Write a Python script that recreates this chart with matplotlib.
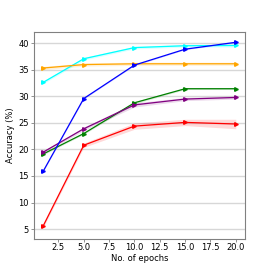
import matplotlib
matplotlib.use('Agg')
import matplotlib.pyplot as plt
import numpy as np

# 训练轮数
epochs = [1, 5, 10, 15, 20]

# 各方法的准确率（均值）与波动范围
acc_cyan = [32.65, 37.1, 39.2, 39.55, 39.6]
std_cyan = [0.25, 0.25, 0.25, 0.25, 0.3]
acc_orange = [35.35, 36.0, 36.15, 36.15, 36.15]
std_orange = [0.3, 0.3, 0.3, 0.3, 0.3]
acc_blue = [15.9, 29.6, 35.9, 38.9, 40.2]
std_blue = [0.1, 0.1, 0.1, 0.1, 0.1]
acc_green = [19.15, 23.0, 28.8, 31.45, 31.45]
std_green = [0.15, 0.15, 0.2, 0.15, 0.15]
acc_purple = [19.5, 23.9, 28.4, 29.5, 29.8]
std_purple = [0.25, 0.3, 0.4, 0.3, 0.3]
acc_red = [5.6, 20.8, 24.4, 25.1, 24.8]
std_red = [0.3, 0.4, 0.6, 0.6, 0.9]

series = [
    (acc_cyan, std_cyan, 'cyan'),
    (acc_orange, std_orange, 'orange'),
    (acc_green, std_green, 'green'),
    (acc_purple, std_purple, 'purple'),
    (acc_red, std_red, 'red'),
    (acc_blue, std_blue, 'blue'),
]

fig = plt.figure(figsize=(2.73, 2.73), dpi=100)
ax = fig.add_axes([0.123, 0.126, 0.776, 0.756])

x = np.array(epochs)
for acc, std, color in series:
    acc = np.array(acc)
    std = np.array(std)
    ax.fill_between(x, acc - std, acc + std, color=color, alpha=0.15, linewidth=0)
    ax.plot(x, acc, color=color, linewidth=0.9, marker='>', markersize=2.6)

ax.set_xlim(0.05, 20.95)
ax.set_ylim(3.2, 42.1)
ax.set_yticks([5, 10, 15, 20, 25, 30, 35, 40])
ax.set_xticks([2.5, 5.0, 7.5, 10.0, 12.5, 15.0, 17.5, 20.0])
ax.yaxis.grid(True, color='lightgray', linewidth=1.0, alpha=0.9)
ax.set_axisbelow(True)

for s in ax.spines.values():
    s.set_color('gray')
ax.tick_params(labelsize=6, length=2, width=0.6, color='gray', pad=1.5)
ax.set_xlabel('No. of epochs', fontsize=6, labelpad=1)
ax.set_ylabel('Accuracy (%)', fontsize=6, labelpad=2)

plt.savefig('out.png', dpi=100)
plt.close()
